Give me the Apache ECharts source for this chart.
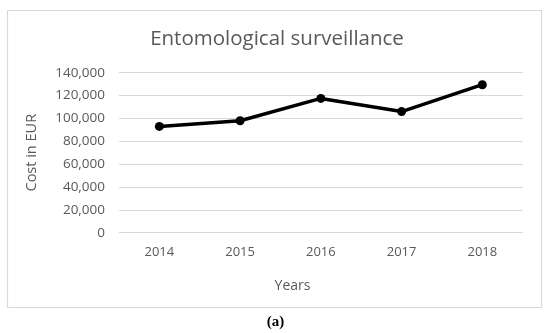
<!DOCTYPE html>
<html><head><meta charset="utf-8">
<script src="https://cdn.jsdelivr.net/npm/echarts@6/dist/echarts.min.js"></script>
<style>html,body{margin:0;padding:0;background:#fff;}#c{width:550px;height:333px;}</style>
</head><body><div id="c"></div>
<script>
const categories = ['2014', '2015', '2016', '2017', '2018'];
const costValues = [93000, 98000, 117500, 106000, 129500];
const yTicks = { min: 0, max: 140000, interval: 20000 };

const chart = echarts.init(document.getElementById('c'), null, { renderer: 'canvas' });
const txt = '#595959';
const fam = '"Open Sans", "Noto Sans", sans-serif';
chart.setOption({
  animation: false,
  backgroundColor: '#fff',
  title: {
    text: 'Entomological surveillance',
    left: 272, top: 24, textAlign: 'center',
    textStyle: { fontFamily: fam, fontSize: 20.5, fontWeight: 'normal', color: txt }
  },
  graphic: [
    { type: 'rect', shape: { x: 7.5, y: 10.5, width: 534, height: 297 },
      style: { fill: 'none', stroke: '#d9d9d9', lineWidth: 1.2 }, z: -1 },
    { type: 'text', x: 275.5, y: 322,
      style: { text: '(a)', font: 'bold 15px "Liberation Serif", serif', fill: '#000',
        align: 'center', verticalAlign: 'middle' } },
    { type: 'text', x: 292.5, y: 286,
      style: { text: 'Years', font: '14px "Open Sans", sans-serif', fill: txt,
        align: 'center', verticalAlign: 'middle' } }
  ],
  grid: { left: 119, right: 27.3, top: 72.7, bottom: 100.3, containLabel: false },
  xAxis: {
    type: 'category', data: categories, boundaryGap: true,
    axisLine: { show: false }, axisTick: { show: false },
    axisLabel: { color: txt, fontFamily: fam, fontSize: 13, margin: 13 }
  },
  yAxis: {
    type: 'value', min: yTicks.min, max: yTicks.max, interval: yTicks.interval,
    axisLine: { show: false }, axisTick: { show: false },
    splitLine: { lineStyle: { color: '#d9d9d9', width: 1.2 } },
    axisLabel: { color: txt, fontFamily: fam, fontSize: 13.5, margin: 14,
      formatter: v => v.toLocaleString('en-US') },
    name: 'Cost in EUR', nameLocation: 'middle', nameGap: 80, nameRotate: 90,
    nameTextStyle: { color: txt, fontFamily: fam, fontSize: 14.5 }
  },
  series: [{
    type: 'line', data: costValues,
    symbol: 'circle', symbolSize: 9,
    lineStyle: { color: '#000', width: 3.5 },
    itemStyle: { color: '#000' }
  }]
});
</script></body></html>
